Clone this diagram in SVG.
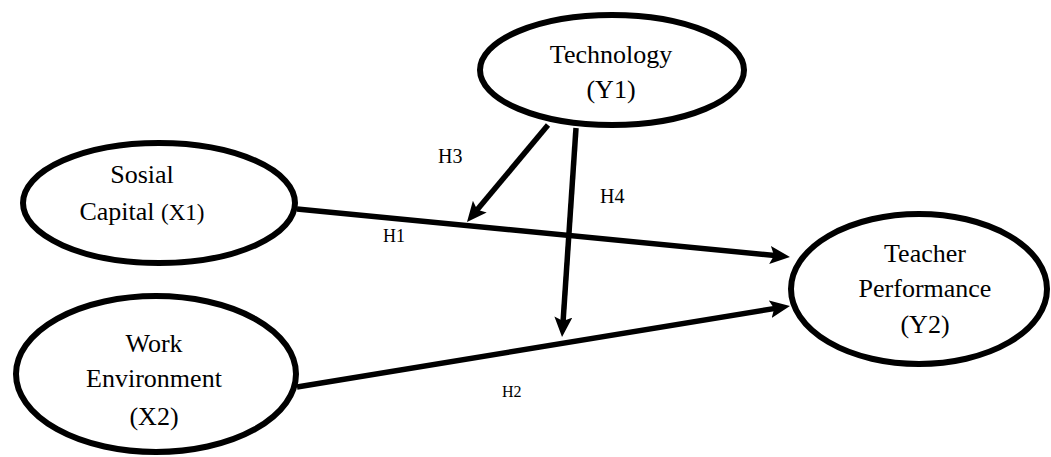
<svg xmlns="http://www.w3.org/2000/svg" width="1051" height="457" viewBox="0 0 1051 457">
<style>
.node{fill:#fff;stroke:#000;stroke-width:6}
.t{font-family:"Liberation Serif","Times New Roman",serif;font-size:26px;fill:#000;text-anchor:middle}
.lbl{font-family:"Liberation Serif","Times New Roman",serif;fill:#000}
.edge{stroke:#000;stroke-width:5.5;fill:none;marker-end:url(#ah)}
</style>
<defs>
<marker id="ah" markerUnits="userSpaceOnUse" markerWidth="22" markerHeight="20" refX="10" refY="9" orient="auto" viewBox="0 0 22 20">
<path d="M0,0 L20,9 L0,18 L4,9 Z" fill="#000"/>
</marker>
</defs>
<rect width="1051" height="457" fill="#fff"/>
<g id="connectors">
<line class="edge" x1="297" y1="209" x2="780" y2="256"/>
<line class="edge" x1="297" y1="387" x2="780.1" y2="307.6"/>
<line class="edge" x1="548" y1="125" x2="473.4" y2="214.3"/>
<line class="edge" x1="576" y1="128" x2="562.7" y2="327"/>
</g>
<g id="labels">
<text class="lbl" x="383" y="242" font-size="18">H1</text>
<text class="lbl" x="502" y="397" font-size="16">H2</text>
<text class="lbl" x="438" y="163" font-size="20">H3</text>
<text class="lbl" x="600" y="203" font-size="20">H4</text>
</g>
<g id="technology">
<ellipse class="node" cx="612" cy="70" rx="132" ry="55"/>
<text class="t" x="611" y="63">Technology</text>
<text class="t" x="611" y="98">(Y1)</text>
</g>
<g id="social-capital">
<ellipse class="node" cx="159" cy="203" rx="136" ry="60"/>
<text class="t" x="142" y="183">Sosial</text>
<text class="t" x="142" y="220">Capital <tspan font-size="23">(X1)</tspan></text>
</g>
<g id="work-environment">
<ellipse class="node" cx="156" cy="374" rx="140" ry="78"/>
<text class="t" x="154" y="352">Work</text>
<text class="t" x="154" y="387">Environment</text>
<text class="t" x="154" y="425">(X2)</text>
</g>
<g id="teacher-performance">
<ellipse class="node" cx="919" cy="289" rx="128" ry="75"/>
<text class="t" x="925" y="262">Teacher</text>
<text class="t" x="925" y="297">Performance</text>
<text class="t" x="925" y="333">(Y2)</text>
</g>
</svg>
